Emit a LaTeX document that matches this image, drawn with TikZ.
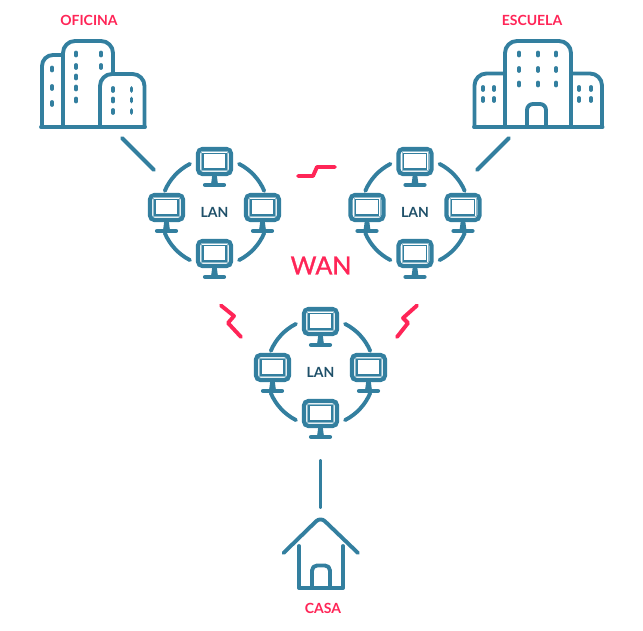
\documentclass[tikz,border=0pt]{standalone}
\usepackage{fontspec}
\setmainfont{Lato}
\newfontfamily\wanfont{Lato}[FakeBold=1.2]
\definecolor{tealline}{HTML}{337F9F}
\definecolor{tealsoft}{HTML}{8FBACB}
\definecolor{lantext}{HTML}{1F5069}
\definecolor{wanpink}{HTML}{FF2557}
\tikzset{
	build/.style={draw=tealline, line width=3.9pt, line cap=round, line join=round},
	window/.style={draw=tealline, line width=3.8pt, line cap=round},
	link/.style={draw=tealline, line width=3.9pt, line cap=round},
	bolt/.style={draw=wanpink, line width=3.9pt, line cap=round, line join=round},
	place/.style={text=wanpink, font=\fontsize{14}{16}\selectfont\bfseries},
	lanlabel/.style={text=lantext, font=\fontsize{14}{16}\selectfont\bfseries},
	monitor/.pic={
		\draw[tealline, line width=4.2pt, rounded corners=4.5pt] (-16.5,-12.5) rectangle (16.5,12.5);
		\draw[tealsoft, line width=1pt] (-13,-9.5) rectangle (13,9);
		\draw[tealline, line width=1.7pt] (-11.5,-8) rectangle (11.5,7.5);
		\fill[tealline] (-2,12) -- (2,12) -- (3.5,23) -- (-3.5,23) -- cycle;
		\draw[tealline, line width=4.2pt, line cap=round] (-9.5,23.4) -- (9.5,23.4);
	},
	lanring/.pic={
		\foreach \a in {157,63,-23,-117}
		{
			\draw[link] (\a:54pt) arc[start angle=\a, end angle=\a-40, radius=54pt];
		}
		\pic at (0,-50.5) {monitor};
		\pic at (-48,-4.5) {monitor};
		\pic at (48,-4.5) {monitor};
		\pic at (0,41.5) {monitor};
		\node[lanlabel] (-lan) at (0,0) {LAN};
	},
}
\begin{document}
\begin{tikzpicture}[x=1pt,y=-1pt]
	\useasboundingbox (0,0) rectangle (643,631);
	% the three networks
	\pic (left) at (214.5,212) {lanring};
	\pic (right) at (415,212) {lanring};
	\pic (home) at (320.5,372) {lanring};
	\node[text=wanpink, font=\fontsize{25}{28}\selectfont\wanfont] (wan) at (321,265.5) {WAN};
	% places
	\node[place] (oficina) at (89,20) {OFICINA};
	\node[place] (escuela) at (532,20) {ESCUELA};
	\node[place] (casa) at (323,608) {CASA};
	% oficina
	\draw[build, rounded corners=11pt] (42,127) -- (42,55) -- (63,55);
	\draw[build, rounded corners=12pt] (63,127) -- (63,41) -- (113,41) -- (113,73);
	\draw[build, rounded corners=12pt] (100,127) -- (100,74) -- (144.5,74) -- (144.5,127);
	\draw[build] (41,127) -- (145,127);
	\foreach \y in {67.5,86,102}
	{
		\draw[window] (52,\y) -- (52,\y+3);
	}
	\foreach \y in {52.5,65,75.5,86.5,98.5}
	{
		\draw[window] (76,\y) -- (76,\y+3);
	}
	\foreach \y in {52.5,65}
	{
		\draw[window] (101,\y) -- (101,\y+3);
	}
	\foreach \x in {113,131.5}
		\foreach \y in {88,98.5,110}
		{
			\draw[window] (\x,\y) -- (\x,\y+3);
		}
	% escuela
	\draw[build, rounded corners=12pt] (505,127) -- (505,41) -- (571,41) -- (571,127);
	\draw[build, rounded corners=12pt] (505,73.5) -- (474.5,73.5) -- (474.5,127);
	\draw[build, rounded corners=12pt] (571,73.5) -- (602,73.5) -- (602,127);
	\draw[build] (474,127) -- (602.5,127);
	\draw[build, rounded corners=6pt] (527,127) -- (527,104) -- (546,104) -- (546,127);
	\foreach \x in {519,538,556}
		\foreach \y in {52.5,68,82.5}
		{
			\draw[window] (\x,\y) -- (\x,\y+3);
		}
	\foreach \x in {483,494,579,591}
		\foreach \y in {87,98}
		{
			\draw[window] (\x,\y) -- (\x,\y+3);
		}
	% casa
	\draw[build, rounded corners=6pt] (283.5,553) -- (320.5,517) -- (358,553);
	\draw[build] (299,546) -- (299,588) -- (343,588) -- (343,546);
	\draw[build, rounded corners=5pt] (312,588) -- (312,565.5) -- (330,565.5) -- (330,588);
	% links to the places
	\coordinate (ofA) at (122,138);
	\coordinate (ofB) at (154,170);
	\coordinate (esA) at (509,138);
	\coordinate (esB) at (477,170);
	\coordinate (caA) at (320.5,461);
	\coordinate (caB) at (320.5,507);
	\draw[link] (ofA) -- (ofB);
	\draw[link] (esA) -- (esB);
	\draw[link] (caA) -- (caB);
	% wan links
	\draw[bolt] (298,176) -- (313,176) -- (317,167) -- (335,167);
	\draw[bolt] (221,305.5) -- (234,316) -- (228,323) -- (241,337);
	\draw[bolt] (417,305.5) -- (403,318) -- (408,323) -- (397,337);
\end{tikzpicture}
\end{document}
